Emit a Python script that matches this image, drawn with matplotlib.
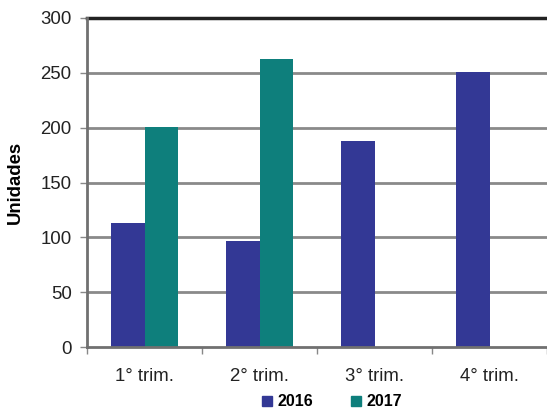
import matplotlib
matplotlib.use("Agg")
import matplotlib.pyplot as plt
import numpy as np
from matplotlib.patches import Patch

categories = ["1° trim.", "2° trim.", "3° trim.", "4° trim."]
series_names = ["2016", "2017"]
values_2016 = [113, 97, 188, 251]
values_2017 = [201, 263, np.nan, np.nan]
yticks = [0, 50, 100, 150, 200, 250, 300]

c2016 = "#333895"
c2017 = "#0E7F7C"

plt.rcParams['font.family'] = ['Liberation Sans', 'DejaVu Sans']

fig = plt.figure(figsize=(5.47, 4.12), dpi=100)
ax = fig.add_axes([87/547, 1-347/412, 1-87/547, (347-18)/412])

x = np.arange(len(categories))
w = 0.29
ax.bar(x - w/2, values_2016, width=w, color=c2016, zorder=3)
ax.bar(x + w/2, values_2017, width=w, color=c2017, zorder=3)

ax.set_xlim(-0.5, len(categories) - 0.5)
ax.set_ylim(0, 300)
ax.set_yticks(yticks)
ax.set_yticklabels([str(v) for v in yticks], fontsize=13.4, color="#222222")
ax.set_xticks(x)
ax.set_xticklabels(categories, fontsize=13.4, color="#222222")
ax.tick_params(axis='x', which='major', length=0, pad=15)
ax.set_xticks(np.arange(-0.5, len(categories), 1.0), minor=True)
ax.tick_params(axis='x', which='minor', length=5, width=1, color="#888888")
ax.tick_params(axis='y', length=5, width=1, color="#888888", pad=6)

for v in yticks[1:-1]:
    ax.axhline(v, color="#8a8a8a", lw=2, zorder=1)
ax.axhline(300, color="#222222", lw=2.5, zorder=4, clip_on=False)

ax.spines["right"].set_visible(False)
ax.spines["top"].set_visible(False)
ax.spines["left"].set_color("#707070")
ax.spines["left"].set_linewidth(2)
ax.spines["bottom"].set_color("#707070")
ax.spines["bottom"].set_linewidth(2)
ax.spines["left"].set_zorder(5)
ax.spines["bottom"].set_zorder(5)

ax.set_ylabel("Unidades", fontsize=13.3, fontweight="bold", labelpad=12)

handles = [Patch(color=c2016), Patch(color=c2017)]
leg = fig.legend(handles, series_names, loc="center", bbox_to_anchor=(332/547, 1-402/412),
                 ncol=2, frameon=False, handlelength=0.62, handleheight=0.62,
                 handletextpad=0.35, columnspacing=2.4,
                 prop={"weight": "bold", "size": 11.5})

fig.savefig("out.png", dpi=100)
